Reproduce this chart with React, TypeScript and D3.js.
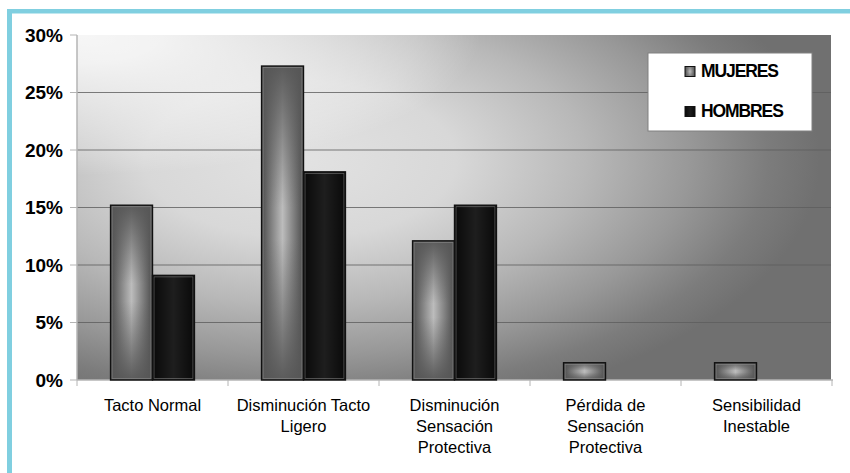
import React from "react";
import * as d3 from "d3";
import { useEffect, useRef } from "react";

const categories = [
  "Tacto Normal",
  "Disminución Tacto Ligero",
  "Disminución Sensación Protectiva",
  "Pérdida de Sensación Protectiva",
  "Sensibilidad Inestable",
];
const categoryLines = [
  ["Tacto Normal"],
  ["Disminución Tacto", "Ligero"],
  ["Disminución", "Sensación", "Protectiva"],
  ["Pérdida de", "Sensación", "Protectiva"],
  ["Sensibilidad", "Inestable"],
];
const seriesNames = ["MUJERES", "HOMBRES"];
const mujeres = [0.152, 0.273, 0.121, 0.015, 0.015];
const hombres = [0.091, 0.181, 0.152, 0, 0];
const yTicks = [0, 0.05, 0.1, 0.15, 0.2, 0.25, 0.3];

const width = 850;
const height = 473;
const font = "'Liberation Sans', Arial, sans-serif";

export default function App() {
  const svgRef = useRef<SVGSVGElement>(null);

  useEffect(() => {
    const svg = d3.select(svgRef.current);
    svg.selectAll("*").remove();

    const left = 77;
    const right = 832;
    const top = 35;
    const bottom = 380;

    const x = d3.scaleBand().domain(categories).range([left, right]).padding(0);
    const xSub = d3
      .scaleBand()
      .domain(seriesNames)
      .range([0, x.bandwidth()])
      .paddingInner(0)
      .paddingOuter(0.8);
    const y = d3.scaleLinear().domain([0, 0.3]).range([bottom, top]);

    const defs = svg.append("defs");

    // plot background: soft light blob left of centre, darker to the right and down
    const radial = (id, cx, cy, r, sy, stops) => {
      const g = defs
        .append("radialGradient")
        .attr("id", id)
        .attr("gradientUnits", "userSpaceOnUse")
        .attr("cx", cx)
        .attr("cy", cy)
        .attr("r", r)
        .attr("gradientTransform", `translate(${cx},${cy}) scale(1,${sy}) translate(${-cx},${-cy})`);
      stops.forEach(([o, c, a]) =>
        g.append("stop").attr("offset", o).attr("stop-color", c).attr("stop-opacity", a)
      );
    };
    radial("bg", 300, 160, 520, 0.5, [
      [0, "#e2e2e2", 1],
      [0.3, "#d8d8d8", 1],
      [0.55, "#b8b8b8", 1],
      [0.75, "#989898", 1],
      [0.9, "#7c7c7c", 1],
      [1, "#707070", 1],
    ]);
    // highlight along the top left
    radial("shine", 80, 35, 400, 0.35, [
      [0, "#fff", 0.9],
      [0.2, "#fff", 0.82],
      [0.5, "#fff", 0.55],
      [0.84, "#fff", 0.22],
      [1, "#fff", 0],
    ]);

    const hGrad = (id, edge, mid) => {
      const g = defs.append("linearGradient").attr("id", id).attr("x1", 0).attr("x2", 1).attr("y1", 0).attr("y2", 0);
      g.append("stop").attr("offset", 0).attr("stop-color", edge);
      g.append("stop").attr("offset", 0.5).attr("stop-color", mid);
      g.append("stop").attr("offset", 1).attr("stop-color", edge);
    };
    hGrad("mujH", "#4c4c4c", "#bcbcbc");
    hGrad("homH", "#090909", "#1e1e1e");

    const vShade = defs.append("linearGradient").attr("id", "mujV").attr("x1", 0).attr("x2", 0).attr("y1", 0).attr("y2", 1);
    [
      [0, 0.95],
      [0.45, 0],
      [0.55, 0],
      [1, 0.95],
    ].forEach(([o, a]) =>
      vShade.append("stop").attr("offset", o).attr("stop-color", "#565656").attr("stop-opacity", a)
    );

    // blue frame
    svg.append("rect").attr("x", 7).attr("y", 9).attr("width", width - 7).attr("height", 4.5).attr("fill", "#80cfe0");
    svg.append("rect").attr("x", 7).attr("y", 9).attr("width", 5).attr("height", height - 9).attr("fill", "#80cfe0");

    ["url(#bg)", "url(#shine)"].forEach((f) =>
      svg
        .append("rect")
        .attr("x", left)
        .attr("y", top)
        .attr("width", right - 1 - left)
        .attr("height", bottom - top)
        .attr("fill", f)
    );

    // gridlines
    svg
      .append("g")
      .selectAll("line")
      .data(yTicks.filter((d) => d > 0 && d < 0.3))
      .enter()
      .append("line")
      .attr("x1", left)
      .attr("x2", right - 1)
      .attr("y1", (d) => y(d))
      .attr("y2", (d) => y(d))
      .attr("stroke", "#5e5e5e")
      .attr("stroke-width", 1.2)
      .attr("opacity", 0.8);

    // axes
    svg.append("line").attr("x1", left).attr("x2", left).attr("y1", top).attr("y2", bottom).attr("stroke", "#b4b4b4").attr("stroke-width", 1.5);
    svg.append("line").attr("x1", left).attr("x2", right + 1).attr("y1", bottom).attr("y2", bottom).attr("stroke", "#b4b4b4").attr("stroke-width", 1.5);

    svg
      .append("g")
      .selectAll("line")
      .data(yTicks)
      .enter()
      .append("line")
      .attr("x1", left - 7)
      .attr("x2", left)
      .attr("y1", (d) => y(d))
      .attr("y2", (d) => y(d))
      .attr("stroke", "#b4b4b4");

    svg
      .append("g")
      .selectAll("text")
      .data(yTicks)
      .enter()
      .append("text")
      .attr("x", 63)
      .attr("y", (d) => y(d))
      .attr("dy", "0.36em")
      .attr("text-anchor", "end")
      .style("font-family", font)
      .style("font-size", "19px")
      .style("font-weight", "bold")
      .attr("fill", "#000")
      .text((d) => Math.round(d * 100) + "%");

    const bounds = categories.map((c) => x(c)).concat([right]);
    svg
      .append("g")
      .selectAll("line")
      .data(bounds)
      .enter()
      .append("line")
      .attr("x1", (d) => d)
      .attr("x2", (d) => d)
      .attr("y1", bottom)
      .attr("y2", bottom + 6)
      .attr("stroke", "#b4b4b4");

    const labels = svg.append("g");
    categories.forEach((c, i) => {
      const t = labels
        .append("text")
        .attr("text-anchor", "middle")
        .style("font-family", font)
        .style("font-size", "16.5px")
        .attr("fill", "#000");
      categoryLines[i].forEach((line, j) => {
        t.append("tspan")
          .attr("x", x(c) + x.bandwidth() / 2)
          .attr("y", 411 + j * 21)
          .text(line);
      });
    });

    // bars
    const values = [mujeres, hombres];
    seriesNames.forEach((s, si) => {
      const rows = categories
        .map((c, i) => ({ c, v: values[si][i] }))
        .filter((d) => d.v > 0);
      const g = svg.append("g");
      const bx = (d) => x(d.c) + xSub(s);
      const bw = xSub.bandwidth();
      g.selectAll("rect.fill")
        .data(rows)
        .enter()
        .append("rect")
        .attr("x", bx)
        .attr("y", (d) => y(d.v))
        .attr("width", bw)
        .attr("height", (d) => bottom - y(d.v))
        .attr("fill", si === 0 ? "url(#mujH)" : "url(#homH)");
      if (si === 0) {
        g.selectAll("rect.shade")
          .data(rows)
          .enter()
          .append("rect")
          .attr("x", bx)
          .attr("y", (d) => y(d.v))
          .attr("width", bw)
          .attr("height", (d) => bottom - y(d.v))
          .attr("fill", "url(#mujV)");
      }
      g.selectAll("rect.inner")
        .data(rows)
        .enter()
        .append("rect")
        .attr("x", (d) => bx(d) + 1.5)
        .attr("y", (d) => y(d.v) + 1.5)
        .attr("width", bw - 3)
        .attr("height", (d) => Math.max(0, bottom - y(d.v) - 3))
        .attr("fill", "none")
        .attr("stroke", "#a0a0a0")
        .attr("stroke-opacity", 0.55)
        .attr("stroke-width", 0.8);
      g.selectAll("rect.edge")
        .data(rows)
        .enter()
        .append("rect")
        .attr("x", bx)
        .attr("y", (d) => y(d.v))
        .attr("width", bw)
        .attr("height", (d) => bottom - y(d.v))
        .attr("fill", "none")
        .attr("stroke", "#111")
        .attr("stroke-width", 1.4);
    });

    // legend
    const legend = svg.append("g").attr("transform", "translate(648,53)");
    legend.append("rect").attr("width", 164).attr("height", 78).attr("fill", "#fff").attr("stroke", "#808080");
    seriesNames.forEach((s, i) => {
      const ly = 13.5 + i * 40;
      legend.append("rect").attr("x", 37).attr("y", ly).attr("width", 10).attr("height", 10).attr("fill", i === 0 ? "url(#mujH)" : "url(#homH)");
      if (i === 0) legend.append("rect").attr("x", 37).attr("y", ly).attr("width", 10).attr("height", 10).attr("fill", "url(#mujV)").attr("opacity", 0.6);
      legend.append("rect").attr("x", 37).attr("y", ly).attr("width", 10).attr("height", 10).attr("fill", "none").attr("stroke", "#111");
      legend
        .append("text")
        .attr("x", 53)
        .attr("y", ly + 10.5)
        .style("font-family", font)
        .style("font-size", "17.5px")
        .style("font-weight", "bold")
        .style("letter-spacing", "-1.1px")
        .attr("fill", "#000")
        .text(s);
    });
  }, []);

  return (
    <svg
      ref={svgRef}
      width={width}
      height={height}
      style={{ position: "absolute", left: 0, top: 0, background: "#fff" }}
    ></svg>
  );
}
